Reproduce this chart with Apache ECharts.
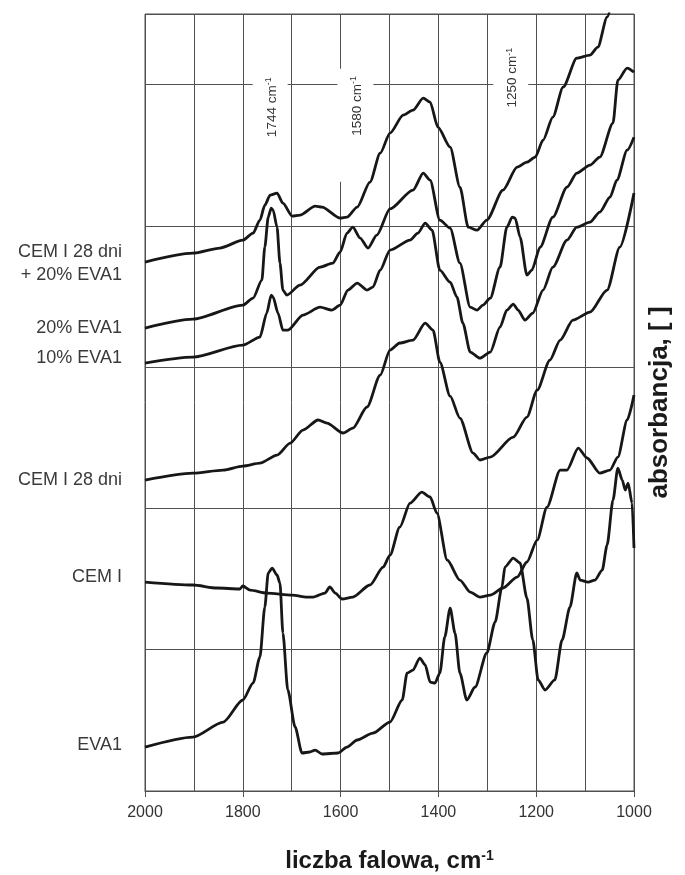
<!DOCTYPE html>
<html>
<head>
<meta charset="utf-8">
<script src="https://cdn.jsdelivr.net/npm/echarts@6/dist/echarts.min.js"></script>
<style>
  html, body { margin: 0; padding: 0; background: #fff; }
  #chart { width: 685px; height: 875px; }
</style>
</head>
<body>
<div id="chart"></div>
<script>
// IR spectra, absorbance (offset traces) vs wavenumber [cm-1]
const cem28Eva20 = [
  [2000,3.744],[1902,3.807],[1847,3.843],[1800,3.899],[1779,3.949],[1765,4.041],[1755,4.147],
  [1744,4.218],[1730,4.232],[1718,4.161],[1699,4.069],[1683,4.076],[1652,4.140],[1638,4.133],
  [1601,4.055],[1587,4.062],[1566,4.133],[1540,4.310],[1519,4.515],[1499,4.657],[1472,4.784],
  [1452,4.819],[1431,4.904],[1417,4.876],[1401,4.699],[1376,4.558],[1356,4.275],[1339,3.991],
  [1321,3.970],[1301,4.041],[1268,4.253],[1239,4.416],[1219,4.451],[1202,4.487],[1186,4.607],
  [1166,4.770],[1145,4.982],[1117,5.187],[1090,5.209],[1074,5.265],[1055,5.478],[1045,5.584]
];

const eva20 = [
  [2000,3.277],[1902,3.340],[1800,3.439],[1779,3.489],[1761,3.616],[1755,3.850],[1748,4.062],
  [1742,4.126],[1738,4.112],[1730,3.991],[1724,3.737],[1718,3.546],[1710,3.510],[1683,3.581],
  [1642,3.708],[1616,3.737],[1601,3.815],[1587,3.949],[1575,3.991],[1560,3.914],[1544,3.843],
  [1526,3.935],[1499,4.120],[1452,4.253],[1431,4.374],[1417,4.324],[1397,4.041],[1376,3.984],
  [1356,3.737],[1335,3.425],[1321,3.404],[1309,3.439],[1294,3.489],[1274,3.708],[1260,3.991],
  [1249,4.062],[1243,4.055],[1233,3.921],[1219,3.652],[1209,3.687],[1192,3.850],[1166,4.062],
  [1137,4.275],[1117,4.374],[1090,4.430],[1070,4.487],[1043,4.727],[1033,5.032],[1014,5.117],
  [1000,5.088]
];

const eva10 = [
  [2000,3.029],[1902,3.071],[1800,3.156],[1765,3.213],[1751,3.383],[1742,3.510],[1738,3.496],
  [1728,3.383],[1718,3.262],[1708,3.262],[1677,3.369],[1642,3.425],[1618,3.404],[1601,3.439],
  [1585,3.546],[1566,3.595],[1546,3.546],[1534,3.567],[1519,3.687],[1499,3.829],[1458,3.899],
  [1442,3.949],[1427,4.020],[1413,3.970],[1397,3.687],[1376,3.602],[1362,3.496],[1350,3.312],
  [1335,3.107],[1315,3.064],[1294,3.107],[1274,3.284],[1260,3.404],[1247,3.447],[1237,3.404],
  [1223,3.333],[1207,3.383],[1186,3.546],[1166,3.708],[1137,3.899],[1117,3.991],[1090,4.027],
  [1070,4.098],[1049,4.204],[1035,4.324],[1014,4.536],[1000,4.628]
];

const cem28 = [
  [2000,2.201],[1902,2.250],[1840,2.272],[1800,2.300],[1765,2.321],[1730,2.378],[1703,2.463],
  [1677,2.555],[1646,2.626],[1628,2.604],[1595,2.534],[1575,2.569],[1546,2.718],[1519,2.944],
  [1499,3.121],[1479,3.171],[1452,3.192],[1427,3.312],[1411,3.262],[1397,3.036],[1376,2.795],
  [1356,2.640],[1329,2.392],[1315,2.343],[1294,2.364],[1247,2.505],[1219,2.647],[1198,2.838],
  [1172,3.050],[1151,3.192],[1125,3.333],[1090,3.390],[1055,3.546],[1029,3.850],[1000,4.232]
];

const cem = [
  [2000,1.479],[1902,1.458],[1853,1.437],[1806,1.430],[1800,1.451],[1785,1.422],[1751,1.401],
  [1699,1.387],[1669,1.373],[1656,1.373],[1632,1.401],[1622,1.444],[1611,1.401],[1597,1.359],
  [1575,1.373],[1540,1.458],[1513,1.585],[1499,1.670],[1479,1.868],[1458,2.038],[1434,2.116],
  [1417,2.081],[1403,1.967],[1382,1.635],[1356,1.493],[1335,1.408],[1315,1.373],[1294,1.387],
  [1268,1.437],[1239,1.514],[1219,1.621],[1198,1.776],[1178,2.010],[1151,2.272],[1137,2.272],
  [1114,2.427],[1096,2.357],[1070,2.250],[1049,2.272],[1033,2.364],[1014,2.626],[1000,2.802]
];

const eva1 = [
  [2000,0.311],[1902,0.382],[1840,0.488],[1800,0.644],[1779,0.764],[1765,0.948],[1755,1.302],
  [1748,1.543],[1740,1.578],[1730,1.529],[1724,1.472],[1718,1.118],[1708,0.715],[1693,0.453],
  [1679,0.269],[1663,0.276],[1652,0.290],[1638,0.262],[1605,0.269],[1587,0.311],[1566,0.361],
  [1534,0.410],[1499,0.488],[1474,0.644],[1464,0.835],[1452,0.856],[1438,0.941],[1427,0.892],
  [1417,0.771],[1407,0.764],[1397,0.835],[1387,1.090],[1376,1.295],[1366,1.118],[1356,0.835],
  [1342,0.644],[1325,0.736],[1301,0.977],[1284,1.196],[1270,1.444],[1264,1.585],[1247,1.649],
  [1233,1.614],[1219,1.366],[1207,1.069],[1196,0.786],[1182,0.715],[1162,0.786],[1147,1.069],
  [1131,1.302],[1117,1.543],[1110,1.493],[1094,1.479],[1080,1.493],[1065,1.564],[1055,1.741],
  [1043,2.059],[1033,2.286],[1024,2.201],[1018,2.130],[1012,2.180],[1004,2.038],[1000,1.720]
];

const seriesNames = ['CEM I 28 dni\n+ 20% EVA1', '20% EVA1', '10% EVA1', 'CEM I 28 dni', 'CEM I', 'EVA1'];
const seriesData = [cem28Eva20, eva20, eva10, cem28, cem, eva1];
// vertical nudge (px) of each name relative to the trace start
const nameShift = [1, 0, -5, 0, -5, -2];

// band assignments written on the plot
const bandWavenumbers = [1744, 1580, 1250];
const bandLevels = [4.84, 4.85, 5.05];

const FONT = '"Liberation Sans", Arial, Helvetica, sans-serif';
const INK = '#171717';
const GRID = '#505050';

const chart = echarts.init(document.getElementById('chart'), null, { renderer: 'canvas' });

chart.setOption({
  animation: false,
  grid: {
    left: 145, right: 51, top: 14, bottom: 84,
    outerBoundsMode: 'none', containLabel: false,
    show: true, borderColor: GRID, borderWidth: 1, backgroundColor: 'transparent'
  },
  xAxis: {
    type: 'value', inverse: true, min: 1000, max: 2000, interval: 200,
    axisLine: { show: true, lineStyle: { color: GRID, width: 1 } },
    axisTick: { show: true, length: 6, lineStyle: { color: GRID } },
    axisLabel: {
      fontSize: 16, color: '#333', margin: 14, fontFamily: FONT,
      formatter: v => String(v)
    },
    splitLine: { show: true, lineStyle: { color: GRID, width: 1 } },
    minorTick: { show: false, splitNumber: 2 },
    minorSplitLine: { show: true, lineStyle: { color: GRID, width: 1 } },
    name: '{t|liczba falowa, cm}{s|-1}',
    nameLocation: 'middle', nameGap: 58,
    nameTextStyle: {
      rich: {
        t: { fontSize: 24, fontWeight: 'bold', color: '#1a1a1a', fontFamily: FONT },
        s: { fontSize: 14, fontWeight: 'bold', color: '#1a1a1a', fontFamily: FONT, verticalAlign: 'top' }
      }
    }
  },
  yAxis: {
    type: 'value', position: 'right', min: 0, max: 5.5, interval: 1,
    axisLine: { show: false }, axisTick: { show: false }, axisLabel: { show: false },
    splitLine: { show: true, lineStyle: { color: GRID, width: 1 } },
    name: 'absorbancja, [ ]', nameLocation: 'middle', nameRotate: 90, nameGap: 13,
    nameTextStyle: { fontSize: 26, fontWeight: 'bold', color: '#1a1a1a', fontFamily: FONT }
  },
  series: seriesData.map((pts, i) => ({
    type: 'line',
    name: seriesNames[i],
    data: pts,
    showSymbol: false,
    symbol: 'none',
    smooth: 0.25,
    smoothMonotone: 'x',
    clip: true,
    z: 3,
    lineStyle: { color: INK, width: 2.8 }
  }))
});

// names at the left end of each trace, and band labels on white boxes
const graphics = [];
seriesData.forEach((pts, i) => {
  const p = chart.convertToPixel({ gridIndex: 0 }, pts[0]);
  graphics.push({
    type: 'text', x: p[0] - 23, y: p[1] + nameShift[i], z: 5,
    style: {
      text: seriesNames[i], fill: '#3a3a3a', font: '18px ' + FONT,
      align: 'right', verticalAlign: 'middle', lineHeight: 23
    }
  });
});

const boxes = [
  { dx: 0, w: 35, up: 36, down: 34, tdx: 2 },
  { dx: 5, w: 36, up: 37, down: 76, tdx: 7 },
  { dx: -1, w: 35, up: 36, down: 34, tdx: 1 }
];
bandWavenumbers.forEach((wn, i) => {
  const p = chart.convertToPixel({ gridIndex: 0 }, [wn, bandLevels[i]]);
  const b = boxes[i];
  graphics.push({
    type: 'rect', z: 1,
    shape: { x: p[0] + b.dx - b.w / 2, y: p[1] - b.up, width: b.w, height: b.up + b.down },
    style: { fill: '#fff' }
  });
  graphics.push({
    type: 'text', x: p[0] + b.tdx, y: p[1], rotation: Math.PI / 2, z: 2,
    style: {
      text: '{n|' + wn + ' cm}{s|-1}',
      align: 'center', verticalAlign: 'middle',
      rich: {
        n: { fontSize: 13.5, fontFamily: FONT, fill: '#333', lineHeight: 16 },
        s: { fontSize: 9, fontFamily: FONT, fill: '#333', verticalAlign: 'top' }
      }
    }
  });
});
chart.setOption({ graphic: graphics });
</script>
</body>
</html>
